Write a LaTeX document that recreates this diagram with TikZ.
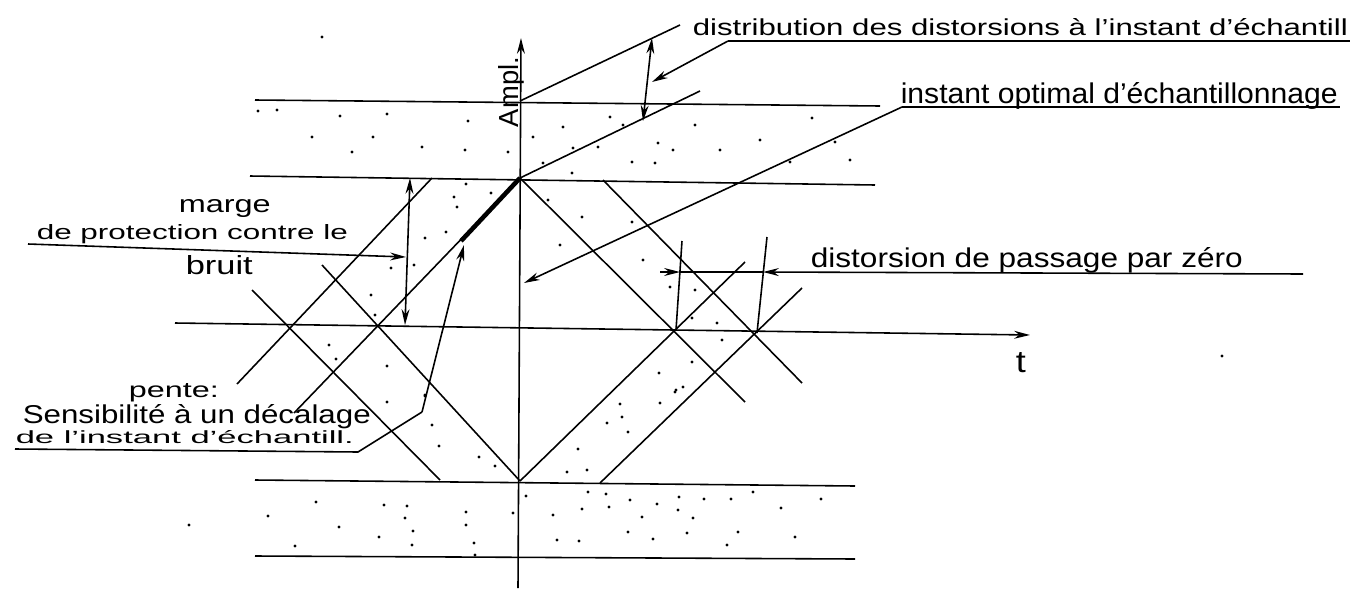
\documentclass[tikz,border=0pt]{standalone}
\usepackage{fontspec}
\setmainfont{Liberation Sans}
\usepackage{graphicx}
\usetikzlibrary{arrows.meta}
\newlength\pxu \setlength\pxu{0.02cm}
% \lab{width}{height above baseline}{text}, in pixels of the reference
\newcommand\lab[3]{\resizebox{#1\pxu}{#2\pxu}{#3}}
\begin{document}
\begin{tikzpicture}[x=0.02cm,y=-0.02cm, line width=0.9pt,
  arr/.style={-{Stealth[length=9pt,width=4.5pt]}},
  darr/.style={{Stealth[length=9pt,width=4.5pt]}-{Stealth[length=9pt,width=4.5pt]}},
  lbl/.style={inner sep=0pt, anchor=base west},
  thick seg/.style={line width=2.6pt}]
\useasboundingbox (0,0) rectangle (1357,589);

% axes
\coordinate (yb) at (518,588); \coordinate (yt) at (521,38);
\coordinate (tl) at (175,323); \coordinate (tr) at (1030,335);
\draw[arr] (yb) -- (yt);
\draw[arr] (tl) -- (tr);

% horizontal band limits
\coordinate (h1l) at (255,100); \coordinate (h1r) at (880,106);
\coordinate (h2l) at (250,176); \coordinate (h2r) at (875,185);
\coordinate (h3l) at (255,480); \coordinate (h3r) at (855,486);
\coordinate (h4l) at (255,556); \coordinate (h4r) at (855,559);
\draw (h1l) -- (h1r);
\draw (h2l) -- (h2r);
\draw (h3l) -- (h3r);
\draw (h4l) -- (h4r);

% key points
\coordinate (P) at (520,178); \coordinate (Q) at (520,481);
\coordinate (p0) at (520,101);
\coordinate (u1) at (680,25); \coordinate (u2) at (700,91);

% top distribution band
\draw (p0) -- (u1);
\draw (P) -- (u2);

% eye transitions
\coordinate (a0) at (237,384); \coordinate (a1) at (432,178);
\coordinate (b0) at (294,413);
\coordinate (c0) at (252,290); \coordinate (c1) at (440,480);
\coordinate (d0) at (322,265);
\coordinate (e1) at (745,402);
\coordinate (f0) at (603,180); \coordinate (f1) at (802,383);
\coordinate (g1) at (745,262);
\coordinate (hh0) at (600,483); \coordinate (hh1) at (802,288);
\draw (a0) -- (a1);
\draw (b0) -- (P);
\draw (c0) -- (c1);
\draw (d0) -- (Q);
\draw (P) -- (e1);
\draw (f0) -- (f1);
\draw (Q) -- (g1);
\draw (hh0) -- (hh1);

% thick slope segment
\coordinate (thk) at (461,241);
\draw[thick seg] (P) -- (thk);

% zero-crossing distortion markers
\coordinate (v1t) at (682,241); \coordinate (v1b) at (676,330);
\coordinate (v2t) at (767,237); \coordinate (v2b) at (757,333);
\draw (v1t) -- (v1b);
\draw (v2t) -- (v2b);
\coordinate (da) at (660,272); \coordinate (dv1) at (680,272);
\coordinate (dv2) at (763,272); \coordinate (de) at (1303,274);
\draw[arr] (da) -- (dv1);
\draw (dv1) -- (dv2);
\draw[arr] (de) -- (dv2);

% distribution double arrow and label
\coordinate (dt) at (652,38); \coordinate (db) at (643,121);
\draw[darr] (dt) -- (db);
\node[lbl] (ldist) at (692,35) {\lab{655}{17}{distribution des distorsions à l'instant d'échantill}};
\coordinate (dl0) at (728,41); \coordinate (dl1) at (1350,41);
\coordinate (dtip) at (652,82);
\draw (dl0) -- (dl1);
\draw[arr] (dl0) -- (dtip);

% instant optimal
\node[lbl] (lopt) at (900,103) {\lab{437}{21}{instant optimal d'échantillonnage}};
\coordinate (ol0) at (902,107); \coordinate (ol1) at (1340,107);
\coordinate (otip) at (524,283);
\draw (ol0) -- (ol1);
\draw[arr] (ol0) -- (otip);

% noise margin
\coordinate (mt) at (410,178); \coordinate (mb) at (405,325);
\draw[darr] (mt) -- (mb);
\node[lbl] (lmarge) at (178,212) {\lab{92}{13}{marge}};
\node[lbl] (lprot) at (36,239) {\lab{311}{15}{de protection contre le}};
\node[lbl] (lbruit) at (185,274) {\lab{67}{19}{bruit}};
\coordinate (ml0) at (28,244); \coordinate (mtip) at (406,257);
\draw[arr] (ml0) -- (mtip);

% slope
\node[lbl] (lpente) at (128,397) {\lab{90}{14}{pente:}};
\node[lbl] (lsens) at (22,423) {\lab{348}{19}{Sensibilité à un décalage}};
\node[lbl] (linst) at (15,443) {\lab{338}{13}{de l'instant d'échantill.}};
\coordinate (pl0) at (15,449); \coordinate (pl1) at (358,452);
\coordinate (pl2) at (422,412); \coordinate (ptip) at (464,245);
\draw (pl0) -- (pl1) -- (pl2);
\draw[arr] (pl2) -- (ptip);

% zero crossing label
\node[lbl] (lzero) at (810,267) {\lab{432}{20}{distorsion de passage par zéro}};

% axis labels
\node[lbl] (lt) at (1015,372) {\lab{10}{20}{t}};
\node[inner sep=0pt, anchor=base, rotate=90] (lampl) at (518,92) {\lab{70}{20}{Ampl.}};

% noise dots
\foreach \x/\y in {
 277/110,340/116,387/114,312/137,373/137,352/152,422/147,468/121,465/150,508/152,
 533/137,563/127,573/148,598/147,610/117,623/125,658/143,673/150,632/162,655/163,
 543/163,572/173,695/125,720/150,760/140,790/162,812/118,835/142,850/160,258/111,
 322/37,
 466/184,491/193,454/197,457/207,425/238,446/232,414/265,391/268,371/295,375/315,
 329/345,336/359,387/366,387/402,425/396,432/425,439/446,479/457,495/466,425/395,
 582/217,632/222,643/260,670/287,695/290,717/323,692/318,722/340,692/362,659/373,676/390,
 548/200,560/245,
 675/392,683/387,620/404,660/403,622/417,607/423,628/432,578/449,567/472,587/470,
 526/496,513/513,553/515,588/492,606/494,582/509,609/507,630/500,657/504,679/497,
 678/510,704/499,731/499,753/492,781/508,821/499,642/517,693/518,628/532,557/540,
 579/541,653/539,687/533,738/532,795/537,727/545,407/506,466/512,413/531,474/543,
 316/502,384/505,268/516,339/527,405/518,379/537,412/545,295/546,475/555,466/525,
 189/525,1222/356}
 \fill (\x,\y) circle [radius=1.6];
\end{tikzpicture}
\end{document}
